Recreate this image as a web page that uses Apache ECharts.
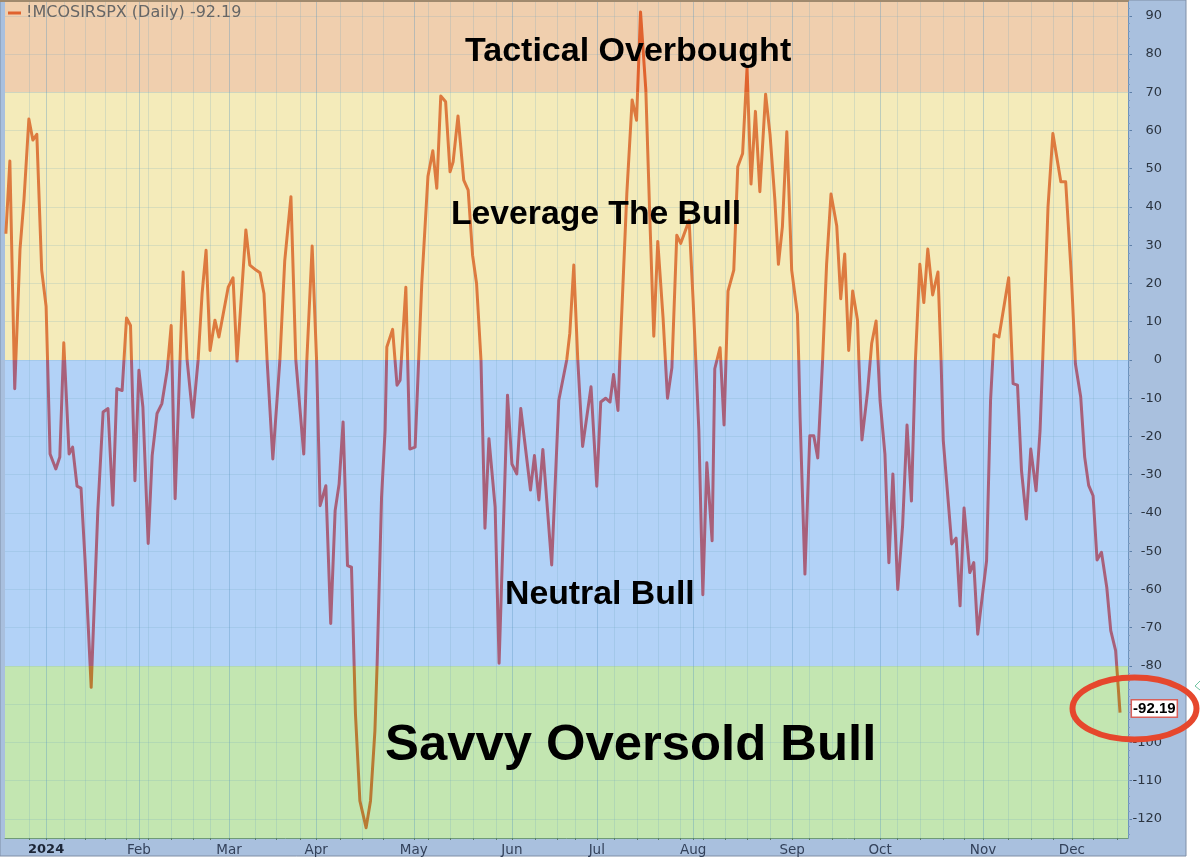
<!DOCTYPE html>
<html>
<head>
<meta charset="utf-8">
<title>!MCOSIRSPX (Daily)</title>
<script src="https://cdn.jsdelivr.net/npm/echarts@6/dist/echarts.min.js"></script>
<style>
html,body{margin:0;padding:0;background:#fff;}
#chart{width:1200px;height:859px;}
</style>
</head>
<body>
<div id="chart"></div>
<script>
// x is the trading session counted from the left edge of the chart
var sessions = [0.2,1.1,2.2,3.4,4.3,5.4,6.3,7.2,8.3,9.3,10.2,11.5,12.4,13.3,14.5,15.3,16.3,17.2,18.1,19.5,21,22.2,23.3,24.4,25.3,26.5,27.5,28.4,29.4,30.3,31.2,32.4,33.3,34.4,35.5,36.7,37.6,38.5,40.3,41.2,42.5,43.7,44.6,45.5,46.4,47.5,48.4,50.5,51.6,52.5,54.5,55.4,56.8,57.7,58.6,59.3,60.6,62.2,63.3,64.7,65.8,67.6,68.3,69.5,70.5,71.3,72.6,73.7,74.7,75.6,76.5,77.5,78.4,79.3,80.3,81.7,82.7,83.7,84.2,85.2,86,86.4,87.7,88.7,89.4,90.7,91.6,92.8,94.3,95.7,96.8,97.7,98.6,99.7,100.7,101.4,102.5,103.8,104.8,105.8,106.7,107.7,108.6,109.5,110.9,111.8,113.7,114.7,115.8,116.7,118.9,119.8,120.8,121.7,123.7,125.3,127.1,127.8,128.7,129.6,130.7,132.6,133.9,134.8,135.9,136.9,137.7,138.7,139.1,140.7,141.9,142.9,143.8,145,145.9,146.8,147.7,148.9,149.9,150.9,152,152.9,154.8,155.7,156.3,157,157.9,158.8,160,160.6,161.8,162.7,163.6,164.9,165.8,166.9,167.9,168.8,169.8,170.8,172.1,173.1,174.2,175,175.9,176.9,178,179.3,179.6,179.9,181,182.1,183,183.9,185,185.9,186.9,188.2,189.1,190,190.9,191.8,192.9,193.2,193.9,195.2,196.1,197.1,198,199.1,200,200.9,202,203.1,204.1,205.1,206,207,207.9,208.8,209.9,211.1,211.8,212.3,214.2,215.2,216.1,217,218.3,219.2,220.1,222.1,223,223.8,224.9,227.1,228.1,229.1,230,231.1,232.1,233.3,234.2,234.8,236,237.1,238.9,240,241.3,242.2,243.4,244.3,245.2,246.2,247.1,248.1,249.3,250.2,251.3,252.3];
var values = [33,52,-7.5,29,42,63,57.5,59,23.5,14,-24.6,-28.5,-25.4,4.5,-24.6,-22.8,-33,-33.5,-52,-85.6,-39.4,-13.6,-12.7,-38,-7.5,-8,11,9,-31.6,-2.7,-12.3,-48,-25,-14,-11.4,-2.7,9,-36.3,23,0,-15,0,17.4,28.7,2.5,10.4,6,19,21.5,-0.3,34,24.8,23.5,22.8,17.4,0,-25.9,0,26,42.7,0,-24.6,0,29.8,0,-38.1,-32.9,-68.9,-39.4,-32.4,-16.2,-53.8,-54.2,-92.6,-115.3,-122.3,-115.3,-97,-79.5,-36,-18.5,3.4,8,-6.6,-5.3,19,-23.3,-22.8,20,48,54.7,44.9,69,67.5,49.2,51.8,63.8,47,44.4,27.4,20,0,-44,-20.6,-38.5,-79.3,-9.2,-27.2,-29.8,-12.7,-34,-25,-36.6,-23.4,-53.6,-10.6,0,7,24.8,0,-22.6,-7,-33,-11,-10,-11,-3.8,-13.2,0,43.5,68,62.7,91,70.6,37.4,6.2,31,11,-10,-2,32.6,30.5,36.5,15.6,0,-18.5,-61.4,-26.9,-47.3,-2.3,3.2,-17,18,23.5,50.5,54,76.3,46,65,44,69.5,59,41.8,25,34.8,59.7,23.5,12,0,-15,-56,-19.8,-19.8,-25.6,0,25,43.4,35,16,27.7,2.5,18,10.4,0,-20.9,-8,4.3,10.2,-10.6,-24.6,-53,-29.8,-60,-43.3,-17,-36.9,0,25,15,29,17,23,0,-21,-48.1,-46.6,-64.3,-38.7,-55.6,-53,-71.7,-52.5,-10.6,6.6,6,21.5,-6.2,-6.6,-28.9,-41.6,-23.3,-34.2,-18.5,0,40,59.2,46.6,46.6,21.7,-1,-9.7,-25.4,-32.8,-35.5,-52.3,-50.3,-59.5,-70.8,-76,-92.19];

var monthTicks = [9.3,30.3,50.7,70.4,92.5,114.7,133.9,155.7,178.1,198,221.3,241.4];
var monthNames = ['2024','Feb','Mar','Apr','May','Jun','Jul','Aug','Sep','Oct','Nov','Dec'];
var weekTicks = [5.4,13.3,18.1,22.6,27.4,32.4,37.6,42.5,46.4,56.6,61.3,66.7,75.8,80.8,85.5,95.7,100.7,105.9,111.1,119.9,124.9,129,137.8,143,147.7,152.7,157.9,162.9,167.9,173.1,181.9,187.1,192.1,202,207.2,212.2,217,227.1,232.1,237.1,246.2,251.6];
var yTicks = [-120,-110,-100,-90,-80,-70,-60,-50,-40,-30,-20,-10,0,10,20,30,40,50,60,70,80,90];
var zoneEdges = [93.6,70,0,-80,-125];
var zoneColors = ['#f0cfae','#f4ebba','#b2d2f7','#c3e6b1'];
var lineColors = ['#e0622e','#dd7a3f','#a8607a','#b97a33'];
var seriesName = '!MCOSIRSPX (Daily) -92.19';

var points = [];
for(var i=0;i<sessions.length;i++){
	points.push([sessions[i],values[i]]);
}
var zoneAreas = [];
var linePieces = [];
for(var k=0;k<zoneColors.length;k++){
	zoneAreas.push([{yAxis:zoneEdges[k],itemStyle:{color:zoneColors[k]}},{yAxis:zoneEdges[k+1]}]);
	linePieces.push({gte:zoneEdges[k+1],lte:zoneEdges[k],color:lineColors[k]});
}
var yMinor = [];
for(var t=-124;t<=92;t+=2){ yMinor.push(t); }

var myChart = echarts.init(document.getElementById('chart'));
var panel = '#a9c0de';
var boldText = function(str,x,y,size){
	return {type:'text',left:x,top:y,z:50,style:{text:str,fill:'#000',font:'bold '+size+'px "Liberation Sans"'}};
};
var option = {
	animation:false,
	backgroundColor:'#fff',
	textStyle:{fontFamily:'"DejaVu Sans"'},
	grid:{left:5,right:72,top:2,bottom:21},
	legend:{
		data:[seriesName],left:4,top:3,padding:[2,4],itemWidth:13,itemHeight:3,itemGap:6,
		icon:'rect',
		textStyle:{fontFamily:'"DejaVu Sans"',fontSize:16,color:'#666'}
	},
	xAxis:[{
		type:'value',min:0,max:254.1,z:1,
		axisLine:{onZero:false,lineStyle:{color:'#6f9a78',width:1}},
		axisTick:{show:true,length:2,customValues:monthTicks,lineStyle:{color:'#5c7f6a'}},
		axisLabel:{
			customValues:monthTicks,hideOverlap:false,margin:5,color:'#33415a',fontSize:13.5,
			formatter:function(v){
				var name = monthNames[monthTicks.indexOf(v)];
				return name==='2024' ? '{y|'+name+'}' : name;
			},
			rich:{y:{fontWeight:'bold',fontSize:13,color:'#1c2536'}}
		},
		splitLine:{show:true,lineStyle:{color:'rgba(90,150,190,0.36)',width:1}}
	},{
		// second x axis only carries the weekly lines, it lands on top so pull it back down
		type:'value',min:0,max:254.1,z:1,position:'top',offset:-836,
		axisLine:{show:false},
		axisTick:{show:true,inside:true,length:2,customValues:weekTicks,lineStyle:{color:'#5c7f6a'}},
		axisLabel:{show:false},
		splitLine:{show:true,lineStyle:{color:'rgba(110,165,190,0.22)',width:1}}
	}],
	yAxis:[{
		type:'value',position:'right',min:-125,max:93.6,z:1,
		axisLine:{onZero:false,show:true,lineStyle:{color:'#6d93bd',width:1}},
		axisTick:{show:true,length:4,customValues:yTicks,lineStyle:{color:'#5d7fa8'}},
		axisLabel:{customValues:yTicks,align:'right',margin:34,color:'#2b3440',fontSize:13,hideOverlap:false,
			formatter:function(v){return String(v);}},
		splitLine:{show:true,lineStyle:{color:'rgba(110,165,190,0.2)',width:1}}
	},{
		// minor ticks, same trick as the weekly axis
		type:'value',position:'left',offset:-1123,min:-125,max:93.6,z:1,
		axisLine:{show:false},
		axisTick:{show:true,inside:true,length:2,customValues:yMinor,lineStyle:{color:'#7f9dc2'}},
		axisLabel:{show:false},
		splitLine:{show:false}
	}],
	visualMap:{show:false,type:'piecewise',seriesIndex:1,dimension:1,pieces:linePieces},
	series:[{
		name:'zones',type:'line',data:[],z:0,silent:true,symbol:'none',
		markArea:{silent:true,z:0,data:zoneAreas}
	},{
		name:seriesName,type:'line',data:points,z:5,symbol:'none',smooth:false,
		color:'#e0622e',
		lineStyle:{width:3,join:'round'},
		markPoint:{
			symbol:'rect',symbolSize:0,silent:true,z:20,
			data:[{coord:points[points.length-1],value:-92.19}],
			label:{
				show:true,position:'right',distance:12,offset:[0,-4],formatter:'-92.19',
				color:'#000',fontFamily:'"Liberation Sans"',fontWeight:'bold',fontSize:15,
				backgroundColor:'#fff',borderColor:'#d9605a',borderWidth:1.5,padding:[1,1,0,1]
			}
		}
	}],
	graphic:[
		{type:'rect',z:-10,silent:true,shape:{x:0,y:0,width:1186,height:856},style:{fill:panel,stroke:'#7e8ea6',lineWidth:1}},
		{type:'rect',z:-9,silent:true,shape:{x:0,y:0,width:1129,height:2},style:{fill:'#a08a6e'}},
		boldText('Tactical Overbought',465,35,34),
		boldText('Leverage The Bull',451,198,33.7),
		boldText('Neutral Bull',505,578,33.8),
		boldText('Savvy Oversold Bull',385,720,50.8),
		{type:'ellipse',z:40,silent:true,shape:{cx:1134.5,cy:708.5,rx:62,ry:31},style:{fill:'none',stroke:'#e6472d',lineWidth:6}},
		{type:'polyline',z:40,silent:true,shape:{points:[[1200,681],[1195,686],[1200,690]]},style:{fill:'none',stroke:'#6fc3a0',lineWidth:1}}
	]
};
myChart.setOption(option);
</script>
</body>
</html>
